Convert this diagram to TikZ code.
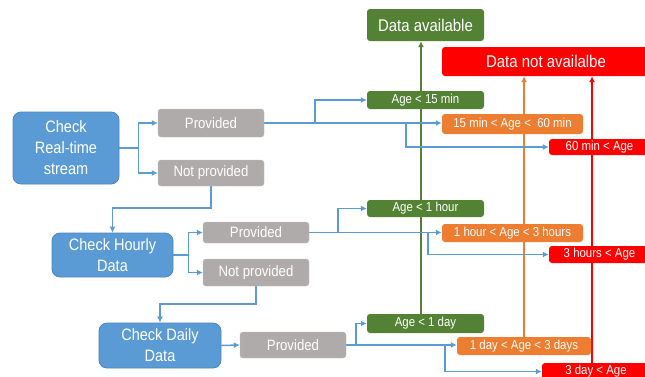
\documentclass[tikz,border=0pt]{standalone}
\usepackage{fontspec}
\setmainfont{Liberation Sans}[FakeStretch=0.88]
\usetikzlibrary{arrows.meta, backgrounds}

\definecolor{checkblue}{HTML}{5B9BD5}
\definecolor{checkedge}{HTML}{4A86BE}
\definecolor{answergray}{HTML}{AEABAA}
\definecolor{okgreen}{HTML}{548235}
\definecolor{midorange}{HTML}{ED7D31}
\definecolor{nored}{HTML}{FF0000}

\tikzset{
    box/.style={rounded corners=3pt, text=white, inner sep=0pt, align=center},
    check/.style={box, fill=checkblue, draw=checkedge, line width=0.8pt, rounded corners=8pt, font=\fontsize{16.5}{21}\selectfont},
    answer/.style={box, fill=answergray, draw=answergray!80!white, font=\fontsize{15}{17}\selectfont},
    age/.style={box, font=\fontsize{13}{15}\selectfont},
    result/.style={box, font=\fontsize{17}{19}\selectfont},
    flow/.style={->, draw=checkblue, line width=1.5pt},
    upline/.style={->, line width=2pt},
}

\begin{document}
\begin{tikzpicture}[x=1pt, y=-1pt, >={Latex[length=6pt, width=6pt]}]

    \useasboundingbox (0,0) rectangle (645,376);
    \clip (0,0) rectangle (645,376);

    % Nodes
    \node (avail) [result, fill=okgreen, minimum width=117, minimum height=32] at (425.5,25) {Data available};
    \node (notavail) [result, fill=nored, minimum width=208, minimum height=29] at (546,61.5) {Data not availalbe};

    \node (check_rt) [check, minimum width=106, minimum height=72] at (66,148) {Check\\Real-time\\stream};
    \node (prov_rt) [answer, minimum width=106, minimum height=28] at (211,123) {Provided};
    \node (notprov_rt) [answer, minimum width=106, minimum height=26] at (211,173) {Not provided};

    \node (check_h) [check, minimum width=121, minimum height=44] at (112.5,255) {Check Hourly\\Data};
    \node (prov_h) [answer, minimum width=106, minimum height=21] at (256,232.5) {Provided};
    \node (notprov_h) [answer, minimum width=106, minimum height=27] at (256,272.5) {Not provided};

    \node (check_d) [check, minimum width=122, minimum height=45] at (160,345.5) {Check Daily\\Data};
    \node (prov_d) [answer, minimum width=106, minimum height=26] at (293,345) {Provided};

    \node (age_15) [age, fill=okgreen, minimum width=117, minimum height=18] at (425.5,100) {Age < 15 min};
    \node (age_15_60) [age, fill=midorange, minimum width=141, minimum height=20] at (512.5,124) {15 min < Age <\ \ 60 min};
    \node (age_60) [age, fill=nored, minimum width=101, minimum height=16] at (599.5,147) {60 min < Age};

    \node (age_1h) [age, fill=okgreen, minimum width=117, minimum height=17] at (425.5,208.5) {Age < 1 hour};
    \node (age_1_3h) [age, fill=midorange, minimum width=141, minimum height=18] at (512.5,233) {1 hour < Age < 3 hours};
    \node (age_3h) [age, fill=nored, minimum width=101, minimum height=17] at (599.5,254.5) {3 hours < Age};

    \node (age_1d) [age, fill=okgreen, minimum width=117, minimum height=19] at (425.5,323.5) {Age < 1 day};
    \node (age_1_3d) [age, fill=midorange, minimum width=134, minimum height=18] at (524,346) {1 day < Age < 3 days};
    \node (age_3d) [age, fill=nored, minimum width=108, minimum height=17] at (596,371.5) {3 day < Age};

    \coordinate (greenx) at (421,0);
    \coordinate (redx) at (592,0);

    \begin{pgfonlayer}{background}
        % Result lines
        \draw[upline, okgreen] (age_1d.north -| greenx) -- (avail.south -| greenx);
        \draw[upline, midorange] (age_1_3d.north) -- (age_1_3d.north |- notavail.south);
        \draw[upline, nored] (age_3d.north -| redx) -- (notavail.south -| redx);

        % Real-time
        \draw[flow] (check_rt.east) -- ++(19,0) |- (prov_rt.west);
        \draw[flow] (check_rt.east) -- ++(19,0) |- (notprov_rt.west);
        \draw[flow] (prov_rt.east) -- ++(51,0) |- (age_15.west);
        \draw[flow] (prov_rt.east) -- (prov_rt.east -| age_15_60.west);
        \draw[flow] (prov_rt.east) -- ++(142,0) |- (age_60.west);
        \draw[flow] (notprov_rt.south) -- ++(0,22) -| (check_h.north);

        % Hourly
        \draw[flow] (check_h.east) -- ++(15,0) |- (prov_h.west);
        \draw[flow] (check_h.east) -- ++(15,0) |- (notprov_h.west);
        \draw[flow] (prov_h.east) -- ++(29,0) |- (age_1h.west);
        \draw[flow] (prov_h.east) -- (prov_h.east -| age_1_3h.west);
        \draw[flow] (prov_h.east) -- ++(119,0) |- (age_3h.west);
        \draw[flow] (notprov_h.south) -- ++(0,18) -| (check_d.north);

        % Daily
        \draw[flow] (check_d.east) -- (prov_d.west);
        \draw[flow] (prov_d.east) -- ++(10,0) |- (age_1d.west);
        \draw[flow] (prov_d.east) -- (prov_d.east -| age_1_3d.west);
        \draw[flow] (prov_d.east) -- ++(99,0) |- (age_3d.west);
    \end{pgfonlayer}

\end{tikzpicture}
\end{document}
